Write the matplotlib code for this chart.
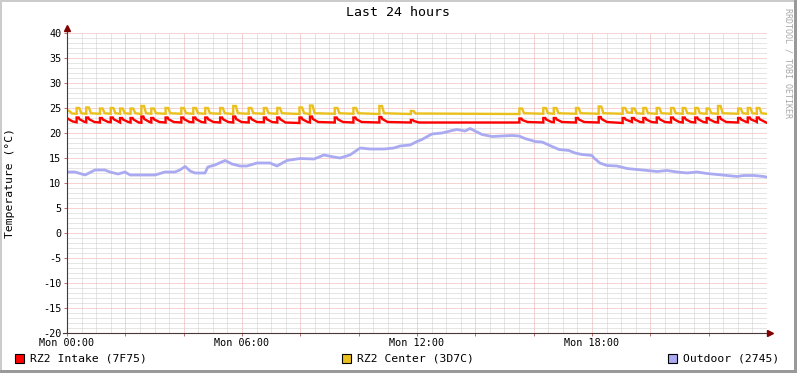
import matplotlib
matplotlib.use('Agg')
import matplotlib.pyplot as plt
from matplotlib.patches import Rectangle
from matplotlib.ticker import MultipleLocator, FuncFormatter

plt.rcParams['font.family'] = ['DejaVu Sans Mono', 'DejaVu Sans']

# ---------------- data (hours since Mon 00:00, degrees C) ----------------
title = "Last 24 hours"
y_label = "Temperature (°C)"
watermark = "RRDTOOL / TOBI OETIKER"
label_hours = [0, 6, 12, 18]
time_labels = ["Mon 00:00", "Mon 06:00", "Mon 12:00", "Mon 18:00"]
series_names = ["RZ2 Intake (7F75)", "RZ2 Center (3D7C)", "Outdoor (2745)"]
series_colors = ["#FF0000", "#EAC01C", "#AAAAF2"]

red_t = [0.00, 0.10, 0.20,
         0.33, 0.33, 0.40, 0.43, 0.61,
         0.66, 0.66, 0.73, 0.76, 0.94,
         1.13, 1.13, 1.20, 1.23, 1.41,
         1.50, 1.50, 1.57, 1.60, 1.78,
         1.82, 1.82, 1.89, 1.92, 2.10,
         2.18, 2.18, 2.25, 2.28, 2.46,
         2.55, 2.55, 2.62, 2.65, 2.83,
         2.89, 2.89, 2.96, 2.99, 3.17,
         3.38, 3.38, 3.45, 3.48, 3.66,
         3.92, 3.92, 3.99, 4.02, 4.20,
         4.33, 4.33, 4.40, 4.43, 4.61,
         4.74, 4.74, 4.81, 4.84, 5.02,
         5.25, 5.25, 5.32, 5.35, 5.53,
         5.70, 5.70, 5.77, 5.80, 5.98,
         6.23, 6.23, 6.30, 6.33, 6.51,
         6.75, 6.75, 6.82, 6.85, 7.03,
         7.21, 7.21, 7.28, 7.31, 7.49,
         7.97, 7.97, 8.04, 8.07, 8.25,
         8.33, 8.33, 8.40, 8.43, 8.61,
         9.18, 9.18, 9.25, 9.28, 9.46,
         9.82, 9.82, 9.89, 9.92, 10.10,
         10.71, 10.71, 10.78, 10.81, 10.99,
         11.79, 11.79, 11.86, 11.89, 12.07,
         15.51, 15.51, 15.58, 15.61, 15.79,
         16.33, 16.33, 16.40, 16.43, 16.61,
         16.69, 16.69, 16.76, 16.79, 16.97,
         17.45, 17.45, 17.52, 17.55, 17.73,
         18.23, 18.23, 18.30, 18.33, 18.51,
         19.05, 19.05, 19.12, 19.15, 19.33,
         19.37, 19.37, 19.44, 19.47, 19.65,
         19.76, 19.76, 19.83, 19.86, 20.04,
         20.22, 20.22, 20.29, 20.32, 20.50,
         20.71, 20.71, 20.78, 20.81, 20.99,
         21.11, 21.11, 21.18, 21.21, 21.39,
         21.54, 21.54, 21.61, 21.64, 21.82,
         21.93, 21.93, 22.00, 22.03, 22.21,
         22.32, 22.32, 22.39, 22.42, 22.60,
         23.01, 23.01, 23.08, 23.11, 23.29,
         23.34, 23.34, 23.41, 23.44, 23.62,
         23.65, 23.65, 23.72, 23.75, 23.93,
         23.97]
red_v = [23.0, 22.6, 22.3,
         22.15, 23.1, 23.1, 22.75, 22.2,
         22.15, 23.1, 23.1, 22.75, 22.2,
         22.10, 23.0, 23.0, 22.70, 22.2,
         22.15, 23.1, 23.1, 22.75, 22.2,
         22.10, 23.0, 23.0, 22.70, 22.2,
         22.10, 23.0, 23.0, 22.70, 22.1,
         22.05, 23.3, 23.3, 22.80, 22.2,
         22.10, 23.0, 23.0, 22.70, 22.2,
         22.10, 23.1, 23.1, 22.75, 22.2,
         22.10, 23.1, 23.1, 22.75, 22.2,
         22.15, 23.1, 23.1, 22.75, 22.2,
         22.10, 23.1, 23.1, 22.75, 22.2,
         22.10, 23.1, 23.1, 22.75, 22.2,
         22.10, 23.3, 23.3, 22.80, 22.2,
         22.10, 23.1, 23.1, 22.75, 22.2,
         22.15, 23.1, 23.1, 22.75, 22.2,
         22.10, 23.1, 23.1, 22.75, 22.1,
         22.00, 23.1, 23.1, 22.75, 22.2,
         22.10, 23.3, 23.3, 22.80, 22.2,
         22.10, 23.1, 23.1, 22.75, 22.2,
         22.10, 23.1, 23.1, 22.75, 22.2,
         22.10, 23.2, 23.2, 22.80, 22.2,
         22.10, 22.6, 22.6, 22.40, 22.1,
         22.10, 22.9, 22.9, 22.60, 22.2,
         22.10, 23.0, 23.0, 22.70, 22.2,
         22.15, 23.0, 23.0, 22.70, 22.2,
         22.10, 23.0, 23.0, 22.70, 22.2,
         22.10, 23.2, 23.2, 22.80, 22.2,
         22.00, 23.0, 23.0, 22.70, 22.3,
         22.20, 23.0, 23.0, 22.70, 22.2,
         22.15, 23.0, 23.0, 22.70, 22.2,
         22.10, 23.1, 23.1, 22.75, 22.2,
         22.10, 23.1, 23.1, 22.75, 22.2,
         22.10, 23.1, 23.1, 22.75, 22.2,
         22.10, 23.1, 23.1, 22.75, 22.2,
         22.10, 23.0, 23.0, 22.70, 22.2,
         22.10, 23.2, 23.2, 22.80, 22.2,
         22.10, 23.0, 23.0, 22.70, 22.2,
         22.15, 23.1, 23.1, 22.75, 22.3,
         22.20, 23.1, 23.1, 22.75, 22.2,
         22.10]

yellow_t = [0.00, 0.10, 0.17,
            0.33, 0.33, 0.42, 0.49,
            0.66, 0.66, 0.75, 0.82,
            1.13, 1.13, 1.22, 1.29,
            1.50, 1.50, 1.59, 1.66,
            1.82, 1.82, 1.91, 1.98,
            2.18, 2.18, 2.27, 2.34,
            2.55, 2.55, 2.64, 2.71,
            2.89, 2.89, 2.98, 3.05,
            3.38, 3.38, 3.47, 3.54,
            3.92, 3.92, 4.01, 4.08,
            4.33, 4.33, 4.42, 4.49,
            4.74, 4.74, 4.83, 4.90,
            5.25, 5.25, 5.34, 5.41,
            5.70, 5.70, 5.79, 5.86,
            6.23, 6.23, 6.32, 6.39,
            6.75, 6.75, 6.84, 6.91,
            7.21, 7.21, 7.30, 7.37,
            7.97, 7.97, 8.06, 8.13,
            8.33, 8.33, 8.42, 8.49,
            9.18, 9.18, 9.27, 9.34,
            9.82, 9.82, 9.91, 9.98,
            10.71, 10.71, 10.80, 10.87,
            11.79, 11.79, 11.88, 11.95,
            15.51, 15.51, 15.60, 15.67,
            16.33, 16.33, 16.42, 16.49,
            16.69, 16.69, 16.78, 16.85,
            17.45, 17.45, 17.54, 17.61,
            18.23, 18.23, 18.32, 18.39,
            19.05, 19.05, 19.14, 19.21,
            19.37, 19.37, 19.46, 19.53,
            19.76, 19.76, 19.85, 19.92,
            20.22, 20.22, 20.31, 20.38,
            20.71, 20.71, 20.80, 20.87,
            21.11, 21.11, 21.20, 21.27,
            21.54, 21.54, 21.63, 21.70,
            21.93, 21.93, 22.02, 22.09,
            22.32, 22.32, 22.41, 22.48,
            23.01, 23.01, 23.10, 23.17,
            23.34, 23.34, 23.43, 23.50,
            23.65, 23.65, 23.74, 23.81,
            23.97]
yellow_v = [24.6, 24.3, 23.9,
            23.85, 25.0, 25.0, 23.95,
            23.85, 25.1, 25.1, 23.95,
            23.85, 24.9, 24.9, 23.95,
            23.85, 25.0, 25.0, 23.95,
            23.85, 24.9, 24.9, 23.95,
            23.85, 24.9, 24.9, 23.95,
            23.80, 25.4, 25.4, 23.95,
            23.85, 24.9, 24.9, 23.95,
            23.85, 25.0, 25.0, 23.95,
            23.85, 25.0, 25.0, 23.95,
            23.85, 25.0, 25.0, 23.95,
            23.85, 25.0, 25.0, 23.95,
            23.85, 25.0, 25.0, 23.95,
            23.80, 25.4, 25.4, 23.95,
            23.85, 25.0, 25.0, 23.95,
            23.85, 25.0, 25.0, 23.95,
            23.85, 25.0, 25.0, 23.95,
            23.80, 25.1, 25.1, 23.95,
            23.80, 25.5, 25.5, 23.95,
            23.85, 25.0, 25.0, 23.95,
            23.85, 25.0, 25.0, 23.95,
            23.80, 25.4, 25.4, 23.95,
            23.80, 24.4, 24.4, 23.90,
            23.80, 24.9, 24.9, 23.95,
            23.85, 25.0, 25.0, 23.95,
            23.85, 25.0, 25.0, 23.95,
            23.85, 25.0, 25.0, 23.95,
            23.85, 25.3, 25.3, 23.95,
            23.85, 25.0, 25.0, 24.10,
            24.05, 24.9, 24.9, 23.95,
            23.85, 25.0, 25.0, 23.95,
            23.85, 25.0, 25.0, 23.95,
            23.85, 25.0, 25.0, 23.95,
            23.85, 25.0, 25.0, 23.95,
            23.85, 25.0, 25.0, 23.95,
            23.85, 24.9, 24.9, 23.95,
            23.85, 25.4, 25.4, 23.95,
            23.85, 24.9, 24.9, 23.95,
            23.85, 25.0, 25.0, 23.95,
            23.85, 25.0, 25.0, 23.95,
            23.85]

blue_t = [0.00, 0.27, 0.62, 0.96, 1.30, 1.47, 1.75, 1.99, 2.16, 3.02,
          3.36, 3.70, 3.87, 4.05, 4.22, 4.39, 4.73, 4.83, 5.07, 5.42,
          5.66, 5.93, 6.17, 6.51, 6.96, 7.20, 7.54, 7.99, 8.47, 8.81,
          9.15, 9.36, 9.70, 10.05, 10.39, 10.87, 11.21, 11.42, 11.76, 12.00,
          12.17, 12.51, 12.86, 13.20, 13.37, 13.65, 13.82, 13.99, 14.23, 14.57,
          14.91, 15.26, 15.50, 15.70, 16.05, 16.29, 16.63, 16.87, 17.21, 17.42,
          17.66, 18.00, 18.07, 18.27, 18.51, 18.86, 19.20, 19.54, 19.89, 20.23,
          20.57, 20.92, 21.26, 21.60, 21.94, 22.29, 22.63, 22.97, 23.21, 23.55,
          23.90, 23.97]
blue_v = [12.2, 12.2, 11.6, 12.6, 12.6, 12.2, 11.8, 12.2, 11.6, 11.6,
          12.2, 12.2, 12.6, 13.3, 12.4, 12.0, 12.0, 13.2, 13.6, 14.5,
          13.8, 13.4, 13.4, 14.0, 14.0, 13.4, 14.5, 14.9, 14.8, 15.6,
          15.2, 15.0, 15.6, 17.0, 16.8, 16.8, 17.0, 17.4, 17.6, 18.3,
          18.7, 19.8, 20.0, 20.5, 20.7, 20.4, 20.9, 20.4, 19.7, 19.3,
          19.4, 19.5, 19.4, 18.9, 18.3, 18.2, 17.3, 16.7, 16.5, 16.0,
          15.7, 15.5, 15.0, 14.0, 13.5, 13.4, 12.9, 12.7, 12.5, 12.3,
          12.5, 12.2, 12.0, 12.2, 11.9, 11.7, 11.5, 11.3, 11.5, 11.5,
          11.3, 11.2]

# ---------------- figure ----------------
W, H = 797, 373
fig = plt.figure(figsize=(W / 100, H / 100), dpi=100)
fig.patch.set_facecolor('white')
ax = fig.add_axes([67 / W, 40 / H, 700 / W, 300 / H])
ax.set_facecolor('white')
ax.set_xlim(0, 24)
ax.set_ylim(-20, 40)
for s in ax.spines.values():
    s.set_visible(False)

ax.xaxis.set_major_locator(MultipleLocator(2))
ax.xaxis.set_minor_locator(MultipleLocator(0.5))
ax.yaxis.set_major_locator(MultipleLocator(5))
ax.yaxis.set_minor_locator(MultipleLocator(1))
lab = dict(zip(label_hours, time_labels))
ax.xaxis.set_major_formatter(FuncFormatter(lambda v, p: lab.get(int(round(v)), "")))
ax.yaxis.set_major_formatter(FuncFormatter(lambda v, p: "%d" % v))

dot = (0, (1, 1))
ax.grid(which='minor', color='#cccccc', linestyle=dot, linewidth=0.72)
ax.grid(which='major', color='#eca8a8', linestyle=dot, linewidth=0.72)
ax.set_axisbelow(True)

ax.tick_params(which='major', length=2.5, width=0.72, color='#c07070',
               labelsize=7.3, pad=1.5)
ax.tick_params(axis='x', which='major', pad=0.8)
ax.tick_params(which='minor', length=0)

ax.plot(red_t, red_v, color=series_colors[0], lw=1.7, solid_joinstyle='miter')
ax.plot(yellow_t, yellow_v, color=series_colors[1], lw=1.7, solid_joinstyle='miter')
ax.plot(blue_t, blue_v, color=series_colors[2], lw=2.0)

# axes with arrows
axis_col = '#4a3838'
arrow_col = '#800000'
ax.plot([0, 0], [-20, 40.9], color=axis_col, lw=0.8, clip_on=False)
ax.plot([-0.14, 24.1], [-20, -20], color=axis_col, lw=0.8, clip_on=False)
ax.plot([0], [40.95], marker='^', ms=4, color=arrow_col, clip_on=False)
ax.plot([24.1], [-20], marker='>', ms=4, color=arrow_col, clip_on=False)

# texts
fig.text(398 / W, 1 - 13 / H, title, ha='center', va='center', fontsize=9.5)
fig.text(10 / W, 1 - 183 / H, y_label, rotation=90, ha='center', va='center', fontsize=8.2)
fig.text(788 / W, 1 - 63 / H, watermark, rotation=270, ha='center', va='center',
         fontsize=6.0, color='#a8a8a8')

# legend
leg_x = [15, 342, 668]
for xs, name, col in zip(leg_x, series_names, series_colors):
    fig.add_artist(Rectangle((xs / W, 1 - 363 / H), 8.5 / W, 9 / H,
                             transform=fig.transFigure, facecolor=col,
                             edgecolor='black', lw=0.8))
    fig.text((xs + 15) / W, 1 - 358.5 / H, name, ha='left', va='center', fontsize=8.2)

# frame (3D border)
fig.add_artist(Rectangle((0, 1 - 2 / H), 1, 2 / H, transform=fig.transFigure,
                         facecolor='#cbcbcb', edgecolor='none'))
fig.add_artist(Rectangle((0, 0), 2 / W, 1, transform=fig.transFigure,
                         facecolor='#cbcbcb', edgecolor='none'))
fig.add_artist(Rectangle((1 - 3 / W, 0), 3 / W, 1, transform=fig.transFigure,
                         facecolor='#999999', edgecolor='none'))
fig.add_artist(Rectangle((0, 0), 1, 3 / H, transform=fig.transFigure,
                         facecolor='#999999', edgecolor='none'))

fig.savefig('out.png', dpi=100, facecolor='white')
